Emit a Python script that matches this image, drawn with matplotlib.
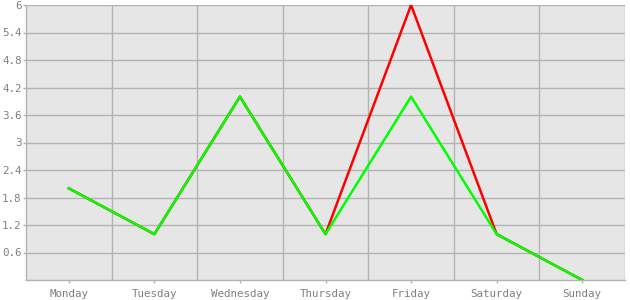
import matplotlib
matplotlib.use("Agg")
from matplotlib import pyplot as plt

days = ["Monday", "Tuesday", "Wednesday", "Thursday", "Friday", "Saturday", "Sunday"]
red_values = [2, 1, 4, 1, 6, 1, 0]
green_values = [2, 1, 4, 1, 4, 1, 0]
y_ticks = [0.6, 1.2, 1.8, 2.4, 3, 3.6, 4.2, 4.8, 5.4, 6]
y_labels = ["0.6", "1.2", "1.8", "2.4", "3", "3.6", "4.2", "4.8", "5.4", "6"]

grid_col = "#b3b3b3"
text_col = "#808080"

fig = plt.figure(figsize=(6.3, 3.0), dpi=100)
ax = fig.add_axes([26 / 630, 20 / 300, 599 / 630, 275 / 300])
ax.set_facecolor("#e6e6e6")

x = list(range(len(days)))
ax.plot(x, red_values, color="#ff0000", linewidth=1.8, zorder=3)
ax.plot(x, green_values, color="#00ff00", linewidth=1.8, zorder=4)

ax.set_xlim(-0.5, len(days) - 0.5)
ax.set_ylim(0, 6)

ax.set_xticks(x)
ax.set_xticklabels(days)
ax.set_yticks(y_ticks)
ax.set_yticklabels(y_labels)

# vertical grid between the categories
ax.set_xticks([i + 0.5 for i in x], minor=True)
ax.grid(True, axis="x", which="minor", color=grid_col, linewidth=1.0)
ax.grid(True, axis="y", which="major", color=grid_col, linewidth=1.0)
ax.tick_params(axis="x", which="minor", length=0)
ax.tick_params(axis="both", which="major", colors=grid_col, labelcolor=text_col,
               length=2.2, width=1, labelsize=7.8)
ax.tick_params(axis="x", which="major", pad=4)
ax.tick_params(axis="y", which="major", pad=1)
for lab in ax.get_xticklabels() + ax.get_yticklabels():
    lab.set_family("DejaVu Sans Mono")

for side in ["top", "right"]:
    ax.spines[side].set_visible(False)
for side in ["left", "bottom"]:
    ax.spines[side].set_color(grid_col)
    ax.spines[side].set_linewidth(1.0)

fig.savefig("out.png", dpi=100, facecolor="white")
